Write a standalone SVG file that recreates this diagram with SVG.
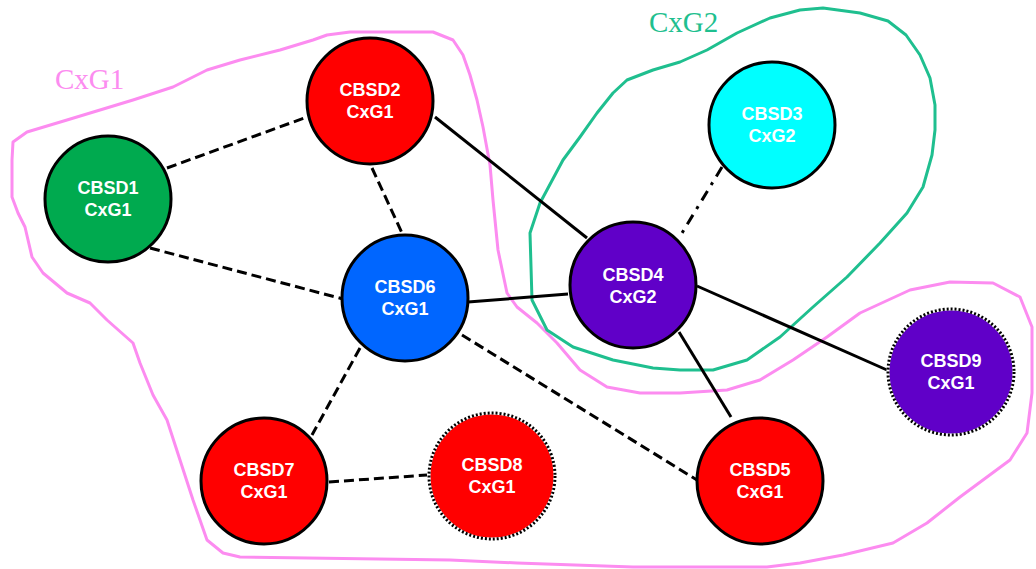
<svg xmlns="http://www.w3.org/2000/svg" width="1036" height="569" viewBox="0 0 1036 569">
  <style>
    .region { fill: none; stroke-width: 3; stroke-linejoin: round; stroke-linecap: round; }
    .g1 { stroke: #FC8CF0; }
    .g2 { stroke: #1FBF8F; }
    .glabel { font-family: "Liberation Serif", "Times New Roman", serif; font-size: 29px; }
    .edge { stroke: #000; stroke-width: 3; fill: none; }
    .dash { stroke-dasharray: 10 5; }
    .dashdot { stroke-dasharray: 11 7 3 7; }
    .node { stroke: #000; stroke-width: 3; }
    .dotted { stroke: #fff; stroke-width: 3; }
    .dots { fill: none; stroke: #000; stroke-width: 3; stroke-dasharray: 2 2; }
    .lbl { font-family: "Liberation Sans", Arial, sans-serif; font-weight: bold; font-size: 18px; fill: #fff; text-anchor: middle; }
  </style>

  <!-- group outlines -->
  <g id="regions">
    <path class="region g1" d="M13,142 L27,132 L67,120 L100,110 L133,100 L173,87 L207,70 L240,60 L280,50 L313,40 L327,35 L350,32 L433,32 L453,40 L463,55 L470,75 L477,100 L483,127 L490,165 L493,200 L498,250 L507,293 L517,307 L537,323 L557,343 L580,370 L607,387 L640,393 L680,393 L727,390 L760,380 L793,360 L827,337 L860,313 L910,290 L950,282 L993,283 L1020,297 L1032,327 L1032,393 L1027,433 L1010,460 L960,497 L927,523 L893,543 L843,555 L800,563 L767,567 L633,567 L517,563 L450,560 L240,557 L223,553 L207,540 L193,500 L180,460 L167,420 L153,395 L140,363 L133,343 L107,320 L90,303 L67,293 L43,273 L32,257 L25,227 L18,213 L12,197 L12,160 Z"/>
    <path class="region g2" d="M823,8 L860,13 L888,21 L906,35 L920,55 L930,78 L935,105 L935,130 L932,155 L923,187 L907,213 L880,243 L847,277 L813,307 L780,337 L747,360 L713,370 L680,370 L653,368 L613,360 L573,347 L547,330 L532,300 L530,233 L540,203 L563,160 L580,137 L597,113 L613,93 L627,80 L653,70 L680,62 L707,50 L737,33 L770,18 L800,10 Z"/>
    <text class="glabel" x="55" y="89" fill="#FC8CF0">CxG1</text>
    <text class="glabel" x="649" y="32" fill="#1FBF8F">CxG2</text>
  </g>

  <!-- links between devices -->
  <g id="connectors">
    <line class="edge dash" x1="167" y1="168" x2="307" y2="117"/>
    <line class="edge dash" x1="150" y1="248" x2="343" y2="299"/>
    <line class="edge dash" x1="372" y1="168" x2="402" y2="233"/>
    <line class="edge" x1="435" y1="117" x2="587" y2="238"/>
    <line class="edge" x1="468" y1="302" x2="568" y2="294"/>
    <line class="edge dashdot" x1="722" y1="167" x2="679" y2="238"/>
    <line class="edge" x1="697" y1="286" x2="887" y2="370"/>
    <line class="edge" x1="679" y1="332" x2="731" y2="417"/>
    <line class="edge dash" x1="360" y1="348" x2="312" y2="435"/>
    <line class="edge dash" x1="462" y1="335" x2="697" y2="480"/>
    <line class="edge dash" x1="329" y1="482" x2="427" y2="475"/>
  </g>

  <g id="cbsd1">
    <circle class="node" cx="108" cy="199" r="63" fill="#00AA4F"/>
    <text class="lbl" x="108" y="194">CBSD1</text>
    <text class="lbl" x="108" y="216">CxG1</text>
  </g>
  <g id="cbsd2">
    <circle class="node" cx="370" cy="101" r="63" fill="#FF0000"/>
    <text class="lbl" x="370" y="96">CBSD2</text>
    <text class="lbl" x="370" y="118">CxG1</text>
  </g>
  <g id="cbsd3">
    <circle class="node" cx="772" cy="125" r="63" fill="#00FFFF"/>
    <text class="lbl" x="772" y="120">CBSD3</text>
    <text class="lbl" x="772" y="142">CxG2</text>
  </g>
  <g id="cbsd4">
    <circle class="node" cx="633" cy="285" r="63" fill="#6000C8"/>
    <text class="lbl" x="633" y="281">CBSD4</text>
    <text class="lbl" x="633" y="303">CxG2</text>
  </g>
  <g id="cbsd5">
    <circle class="node" cx="760" cy="481" r="63" fill="#FF0000"/>
    <text class="lbl" x="760" y="476">CBSD5</text>
    <text class="lbl" x="760" y="498">CxG1</text>
  </g>
  <g id="cbsd6">
    <circle class="node" cx="405" cy="298" r="63" fill="#0066FF"/>
    <text class="lbl" x="405" y="293">CBSD6</text>
    <text class="lbl" x="405" y="315">CxG1</text>
  </g>
  <g id="cbsd7">
    <circle class="node" cx="264" cy="481" r="63" fill="#FF0000"/>
    <text class="lbl" x="264" y="476">CBSD7</text>
    <text class="lbl" x="264" y="498">CxG1</text>
  </g>
  <g id="cbsd8">
    <circle class="dotted" cx="492" cy="476" r="63" fill="#FF0000"/>
    <circle class="dots" cx="492" cy="476" r="63"/>
    <text class="lbl" x="492" y="471">CBSD8</text>
    <text class="lbl" x="492" y="493">CxG1</text>
  </g>
  <g id="cbsd9">
    <circle class="dotted" cx="951" cy="372" r="63" fill="#6000C8"/>
    <circle class="dots" cx="951" cy="372" r="63"/>
    <text class="lbl" x="951" y="367">CBSD9</text>
    <text class="lbl" x="951" y="389">CxG1</text>
  </g>
</svg>
